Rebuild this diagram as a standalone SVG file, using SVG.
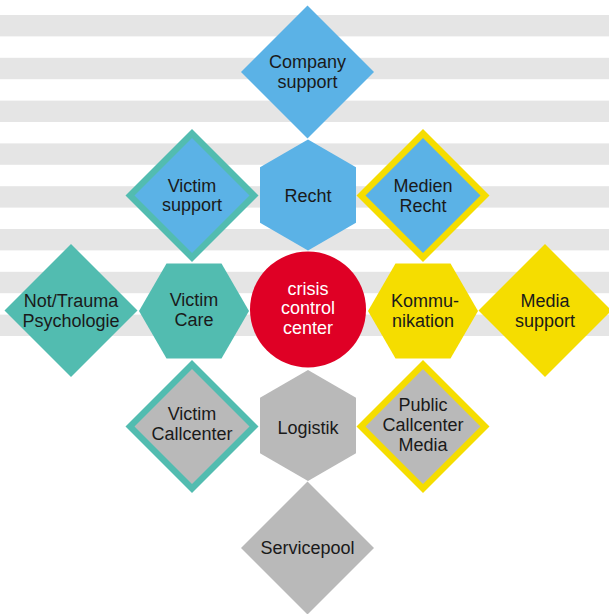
<svg xmlns="http://www.w3.org/2000/svg" width="609" height="614" viewBox="0 0 609 614">
<style>
.stripe{fill:#e5e5e5}
.blue{fill:#5bb2e6}
.teal{fill:#52bcb0}
.yellow{fill:#f5dd00}
.gray{fill:#b9b9b9}
.red{fill:#df0025}
text{font-family:"Liberation Sans",Arial,sans-serif;font-size:18px;fill:#1a1a1a;text-anchor:middle}
.w{fill:#ffffff}
</style>
<rect x="0" y="0" width="609" height="614" fill="#ffffff"/>
<g id="stripes">
<rect class="stripe" x="0" y="15" width="609" height="21.4"/>
<rect class="stripe" x="0" y="57.8" width="609" height="21.4"/>
<rect class="stripe" x="0" y="100.6" width="609" height="21.4"/>
<rect class="stripe" x="0" y="143.4" width="609" height="21.4"/>
<rect class="stripe" x="0" y="186.2" width="609" height="21.4"/>
<rect class="stripe" x="0" y="229" width="609" height="21.4"/>
<rect class="stripe" x="0" y="271.8" width="609" height="21.4"/>
<rect class="stripe" x="0" y="314.6" width="609" height="21.4"/>
</g>
<g id="connectors"/>
<g id="company-support">
<polygon class="blue" points="307.5,5.5 374,72 307.5,138.5 241,72"/>
<text x="307.5" y="68.3">Company</text>
<text x="307.5" y="88.3">support</text>
</g>
<g id="recht">
<polygon class="blue" points="308,139.5 356,167.25 356,222.75 308,250.5 260,222.75 260,167.25"/>
<text x="308" y="201.5">Recht</text>
</g>
<g id="victim-support">
<polygon class="teal" points="192,129 258.5,195.5 192,262 125.5,195.5"/>
<polygon class="blue" points="192,138 249.5,195.5 192,253 134.5,195.5"/>
<text x="192" y="191.7">Victim</text>
<text x="192" y="210.8">support</text>
</g>
<g id="medien-recht">
<polygon class="yellow" points="423,129 489.5,195.5 423,262 356.5,195.5"/>
<polygon class="blue" points="423,138 480.5,195.5 423,253 365.5,195.5"/>
<text x="423" y="191.7">Medien</text>
<text x="423" y="211.7">Recht</text>
</g>
<g id="not-trauma">
<polygon class="teal" points="71,244 137.5,310.5 71,377 4.5,310.5"/>
<text x="71" y="306.7">Not/Trauma</text>
<text x="71" y="326.7">Psychologie</text>
</g>
<g id="victim-care">
<polygon class="teal" points="139,311 166.5,263.4 221.5,263.4 249,311 221.5,358.6 166.5,358.6"/>
<text x="194" y="305.5">Victim</text>
<text x="194" y="325.7">Care</text>
</g>
<g id="crisis-control-center">
<circle class="red" cx="308" cy="309.5" r="58"/>
<text class="w" x="308" y="295">crisis</text>
<text class="w" x="308" y="314.3">control</text>
<text class="w" x="308" y="333.5">center</text>
</g>
<g id="kommunikation">
<polygon class="yellow" points="368,311 395.5,263.4 450.5,263.4 478,311 450.5,358.6 395.5,358.6"/>
<text x="425" y="306.7">Kommu-</text>
<text x="423" y="326.7">nikation</text>
</g>
<g id="media-support">
<polygon class="yellow" points="545,244 611.5,310.5 545,377 478.5,310.5"/>
<text x="545" y="306.7">Media</text>
<text x="545" y="326.7">support</text>
</g>
<g id="victim-callcenter">
<polygon class="teal" points="192,360 258.5,426.5 192,493 125.5,426.5"/>
<polygon class="gray" points="192,369 249.5,426.5 192,484 134.5,426.5"/>
<text x="192" y="420">Victim</text>
<text x="192" y="439.5">Callcenter</text>
</g>
<g id="logistik">
<polygon class="gray" points="308,370 356,397.75 356,453.25 308,481 260,453.25 260,397.75"/>
<text x="308" y="434">Logistik</text>
</g>
<g id="public-callcenter-media">
<polygon class="yellow" points="423,360 489.5,426.5 423,493 356.5,426.5"/>
<polygon class="gray" points="423,369 480.5,426.5 423,484 365.5,426.5"/>
<text x="423" y="410.7">Public</text>
<text x="423" y="430.7">Callcenter</text>
<text x="423" y="451">Media</text>
</g>
<g id="servicepool">
<polygon class="gray" points="307.5,481.5 374,548 307.5,614.5 241,548"/>
<text x="307.5" y="554">Servicepool</text>
</g>
</svg>
